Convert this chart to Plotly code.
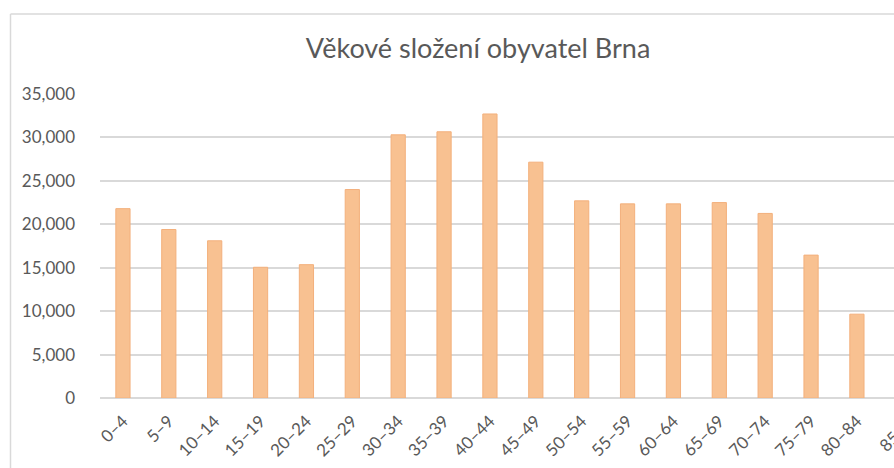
import plotly.graph_objects as go

categories = ["0–4", "5–9", "10–14", "15–19", "20–24", "25–29", "30–34", "35–39",
              "40–44", "45–49", "50–54", "55–59", "60–64", "65–69", "70–74", "75–79",
              "80–84", "85+"]
population = [21800, 19400, 18100, 15050, 15350, 24000, 30300, 30650,
              32700, 27150, 22700, 22350, 22350, 22500, 21250, 16450,
              9650, None]
y_ticks = [0, 5000, 10000, 15000, 20000, 25000, 30000, 35000]

TITLE = "Věkové složení obyvatel Brna"
FONT = "Lato"
GRAY = "#595959"
GRID = "#D9D9D9"

W, H = 894, 468
L = 99.55
T = 94
AXIS_Y = 398
B = H - AXIS_Y
plot_w = W - L
plot_h = H - T - B
band = 45.9

fig = go.Figure()
fig.add_trace(go.Bar(
    x=list(range(len(categories))),
    y=population,
    width=0.31,
    marker=dict(color="#F8C191", line=dict(color="#F3B07C", width=1)),
    hoverinfo="x+y",
))

x_max = -0.5 + plot_w / band

# last category label, cut off at the right edge as in the reference
ax_px = L + (len(categories) - 1 + 0.5) * band + 11
fig.add_annotation(
    text=categories[-1], xref="paper", yref="paper",
    x=(ax_px - L) / plot_w, y=-(417 - AXIS_Y) / plot_h,
    xanchor="right", yanchor="top", textangle=-45, showarrow=False,
    font=dict(family=FONT, size=17, color=GRAY),
)

# chart frame (left and top edges visible)
fx = (10 - L) / plot_w
fy_top = (AXIS_Y - 14) / plot_h
fy_bot = (AXIS_Y - H - 5) / plot_h
fig.add_shape(type="line", xref="paper", yref="paper", x0=fx, x1=fx, y0=fy_bot, y1=fy_top,
              line=dict(color=GRID, width=1.5))
fig.add_shape(type="line", xref="paper", yref="paper", x0=fx, x1=1.2, y0=fy_top, y1=fy_top,
              line=dict(color=GRID, width=1.5))

fig.update_layout(
    width=W, height=H,
    margin=dict(l=L, r=0, t=T, b=B, pad=0),
    paper_bgcolor="white", plot_bgcolor="white",
    showlegend=False,
    title=dict(text=TITLE, x=478 / W, xanchor="center", y=(H - 49) / H,
               yanchor="middle", font=dict(family=FONT, size=27, color=GRAY)),
    font=dict(family=FONT, color=GRAY),
)
fig.update_xaxes(
    range=[-0.5, x_max],
    tickmode="array", tickvals=list(range(len(categories))), ticktext=categories,
    tickangle=-45, tickfont=dict(family=FONT, size=17, color=GRAY),
    showgrid=False, zeroline=False, showline=False, ticks="",
    ticklabelstandoff=9,
)
fig.update_yaxes(
    range=[0, 35000], tickvals=y_ticks, tickformat=",d",
    tickfont=dict(family=FONT, size=17, color=GRAY),
    showgrid=True, gridcolor=GRID, gridwidth=1.5,
    zeroline=True, zerolinecolor=GRID, zerolinewidth=1.5,
    showline=False, ticks="", ticklabelstandoff=24,
)

fig.write_html(
    "out.html",
    config={"displayModeBar": False},
    post_script="document.body.style.margin='0';document.body.style.overflow='hidden';",
)
